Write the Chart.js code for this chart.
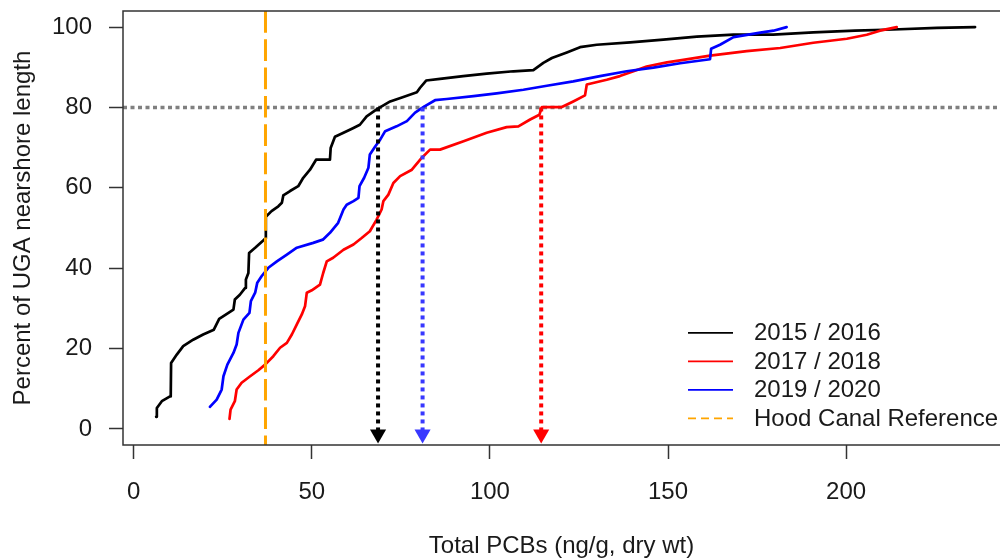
<!DOCTYPE html>
<html>
<head>
<meta charset="utf-8">
<title>Total PCBs - percent of UGA nearshore length</title>
<script src="https://cdn.jsdelivr.net/npm/chart.js@4.4.1/dist/chart.umd.min.js"></script>
<style>
  html, body { margin: 0; padding: 0; background: #fff; }
</style>
</head>
<body>
<canvas id="pcbChart" width="1000" height="559"></canvas>
<script>
// values
const xTicks = [0, 50, 100, 150, 200];
const yTicks = [0, 20, 40, 60, 80, 100];

const seriesLabels = ["2015 / 2016", "2017 / 2018", "2019 / 2020"];
const refLabel = "Hood Canal Reference";

const pcb1516 = [6.3, 6.5, 7.9, 10.2, 10.4, 10.5, 12.1, 13.9, 16.7, 19.5, 22.5, 24.0, 26.6, 28.0, 28.4, 29.8, 31.3, 31.5, 32.2, 32.4, 34.1, 36.6, 37.0, 37.1, 38.7, 40.6, 41.6, 42.0, 43.9, 46.2, 47.6, 49.5, 51.2, 55.1, 55.3, 56.5, 58.9, 61.7, 63.5, 65.4, 68.2, 72.0, 75.7, 79.5, 80.4, 82.1, 86.0, 92.5, 99.1, 106.6, 112.2, 115.0, 117.4, 121.6, 125.3, 130.0, 139.4, 148.7, 158.1, 168.4, 179.5, 190.8, 202.5, 213.2, 225.5, 236.2];
const pct1516 = [3.0, 5.2, 6.9, 8.1, 8.2, 16.4, 18.5, 20.6, 22.2, 23.5, 24.7, 27.4, 28.9, 29.7, 32.2, 33.4, 35.1, 37.2, 38.8, 43.8, 45.1, 47.1, 47.4, 52.8, 54.2, 55.4, 56.3, 58.1, 59.2, 60.4, 62.5, 64.5, 67.0, 67.0, 69.9, 72.7, 73.7, 74.9, 75.7, 77.8, 79.5, 81.5, 82.6, 83.8, 84.9, 86.7, 87.1, 87.8, 88.4, 89.0, 89.3, 91.1, 92.3, 93.7, 95.0, 95.6, 96.2, 96.9, 97.6, 98.1, 98.1, 98.7, 99.1, 99.4, 99.8, 100];

const pcb1718 = [26.9, 27.2, 28.4, 28.9, 30.3, 32.7, 35.0, 36.9, 39.2, 41.1, 43.0, 44.4, 45.8, 47.2, 48.1, 48.6, 50.0, 52.3, 53.2, 54.2, 56.0, 58.9, 61.7, 64.0, 66.3, 68.2, 69.6, 70.1, 71.5, 72.9, 74.8, 78.1, 80.9, 83.2, 86.0, 92.6, 99.1, 104.7, 108.0, 111.3, 113.9, 114.6, 120.2, 123.4, 126.7, 127.2, 132.8, 136.5, 140.3, 144.0, 149.7, 153.4, 161.8, 172.1, 181.5, 190.8, 200.2, 205.8, 209.5, 214.2];
const pct1718 = [2.5, 4.8, 6.9, 9.8, 11.5, 13.1, 14.6, 16.0, 18.1, 20.2, 21.4, 23.5, 26.0, 28.5, 30.5, 33.9, 34.5, 35.9, 38.8, 41.7, 42.6, 44.6, 45.9, 47.5, 49.2, 52.1, 54.6, 56.7, 58.3, 61.2, 62.9, 64.5, 67.5, 69.5, 69.5, 71.6, 73.7, 75.1, 75.3, 77.0, 78.2, 80.1, 80.1, 81.5, 83.0, 85.7, 86.9, 87.8, 89.0, 90.2, 91.2, 91.7, 92.9, 94.0, 94.8, 96.1, 97.1, 98.1, 99.1, 100];

const pcb1920 = [21.4, 23.3, 24.7, 25.2, 26.3, 28.0, 28.9, 29.4, 30.8, 32.5, 32.9, 34.1, 34.7, 35.9, 37.8, 40.2, 43.0, 45.8, 50.4, 53.1, 55.1, 57.4, 58.9, 59.8, 61.7, 63.1, 63.4, 64.7, 65.9, 66.3, 67.8, 69.2, 70.6, 73.8, 76.7, 79.0, 81.3, 84.6, 87.9, 95.4, 101.9, 109.4, 116.0, 123.4, 130.9, 138.4, 145.9, 153.4, 161.8, 162.1, 164.6, 168.4, 175.9, 179.6, 183.3];
const pct1920 = [5.5, 7.3, 9.8, 13.1, 16.0, 18.9, 21.0, 23.9, 27.2, 28.9, 31.8, 33.9, 36.4, 38.0, 40.1, 41.7, 43.4, 45.1, 46.3, 47.1, 48.8, 51.3, 54.6, 55.8, 56.7, 57.5, 60.4, 62.5, 65.0, 68.3, 70.3, 72.0, 74.1, 75.3, 76.6, 78.7, 80.1, 81.8, 82.1, 82.8, 83.5, 84.4, 85.4, 86.5, 87.8, 89.0, 89.9, 91.0, 92.0, 94.6, 95.6, 97.5, 98.6, 99.1, 100];

// 80th percentile concentration of each series (arrows), same order as seriesLabels
const p80Pcb = [68.6, 114.4, 81.1];
const cutoffPct = 80;
const hoodCanalRef = 37;

const X_MIN = -3.0;
const X_MAX = 243.2;
const Y_MIN = -4;
const Y_MAX = 104;
const ARROW_TIP = -1.3;

const FONT = "'Liberation Sans', Arial, sans-serif";
const TEXT = "#1a1a1a";
const AXIS = "#333333";
const colors = ["#000000", "#ff0000", "#0000ff"];
const arrowColors = ["#000000", "#ff0000", "#3838ff"];
const ORANGE = "#ffa500";

const toPoints = (xs, ys) => xs.map((x, i) => ({ x, y: ys[i] }));

const curve = (i, xs, ys) => ({
  label: seriesLabels[i],
  data: toPoints(xs, ys),
  borderColor: colors[i],
  backgroundColor: colors[i],
  borderWidth: 2.7,
  borderJoinStyle: "round",
  borderCapStyle: "round",
  pointRadius: 0,
  tension: 0,
  legendRow: i,
});

const arrow = (i) => ({
  label: "",
  data: [{ x: p80Pcb[i], y: cutoffPct }, { x: p80Pcb[i], y: ARROW_TIP }],
  borderColor: arrowColors[i],
  backgroundColor: arrowColors[i],
  borderWidth: 4,
  borderDash: [4, 4],
  pointRadius: [0, 9.3],
  pointStyle: "triangle",
  pointRotation: 180,
  pointBorderWidth: 0,
  pointBackgroundColor: arrowColors[i],
});

// first dataset is drawn on top
const datasets = [
  arrow(0),
  arrow(2),
  arrow(1),
  {
    label: refLabel,
    data: [{ x: hoodCanalRef, y: Y_MAX }, { x: hoodCanalRef, y: Y_MIN }],
    borderColor: ORANGE,
    backgroundColor: ORANGE,
    borderWidth: 3,
    borderDash: [21.7, 6.6],
    pointRadius: 0,
    legendRow: 3,
    legendDash: [8, 5],
  },
  curve(2, pcb1920, pct1920),
  curve(1, pcb1718, pct1718),
  curve(0, pcb1516, pct1516),
  {
    label: "",
    data: [{ x: X_MIN, y: cutoffPct }, { x: X_MAX + 5, y: cutoffPct }],
    borderColor: "#808080",
    borderWidth: 3.5,
    borderDash: [4, 3.5],
    pointRadius: 0,
  },
];

const framePlugin = {
  id: "frame",
  afterDatasetsDraw(chart) {
    const { ctx, chartArea: a } = chart;
    ctx.save();
    ctx.strokeStyle = AXIS;
    ctx.lineWidth = 1.5;
    ctx.strokeRect(a.left, a.top, a.right - a.left + 20, a.bottom - a.top);
    ctx.restore();
  },
};

// R style legend, bottom right inside the plot, no box
const legendPlugin = {
  id: "rLegend",
  afterDraw(chart) {
    const { ctx, chartArea: a } = chart;
    const items = chart.data.datasets
      .filter((d) => d.legendRow !== undefined)
      .sort((p, q) => p.legendRow - q.legendRow);
    const x0 = a.right - 312;
    const rowH = 28.5;
    const y0 = a.bottom - 26.7 - rowH * (items.length - 1);
    ctx.save();
    ctx.font = `24px ${FONT}`;
    ctx.textBaseline = "middle";
    ctx.textAlign = "left";
    items.forEach((d, i) => {
      const y = y0 + rowH * i;
      ctx.beginPath();
      ctx.strokeStyle = d.borderColor;
      ctx.lineWidth = 1.7;
      ctx.setLineDash(d.legendDash || []);
      ctx.moveTo(x0, y);
      ctx.lineTo(x0 + 45, y);
      ctx.stroke();
      ctx.setLineDash([]);
      ctx.fillStyle = TEXT;
      ctx.fillText(d.label, x0 + 66, y + 1);
    });
    ctx.restore();
  },
};

const tickFont = { family: FONT, size: 24 };

new Chart(document.getElementById("pcbChart"), {
  type: "line",
  data: { datasets },
  options: {
    responsive: false,
    animation: false,
    events: [],
    layout: { autoPadding: false, padding: { top: 11, right: 0, bottom: 0, left: 0 } },
    plugins: {
      legend: { display: false },
      tooltip: { enabled: false },
    },
    scales: {
      x: {
        type: "linear",
        min: X_MIN,
        max: X_MAX,
        afterBuildTicks: (s) => {
          s.ticks = xTicks.map((value) => ({ value }));
        },
        afterFit: (s) => {
          s.height = 114;
          s.paddingLeft = 0;
          s.paddingRight = 0;
        },
        grid: { drawOnChartArea: false, drawTicks: true, tickLength: 14, tickColor: AXIS, tickWidth: 1.5 },
        border: { display: false },
        ticks: { font: tickFont, color: TEXT, padding: 19, maxRotation: 0, autoSkip: false },
        title: {
          display: true,
          text: "Total PCBs (ng/g, dry wt)",
          color: TEXT,
          font: { family: FONT, size: 24, lineHeight: 1 },
          padding: { top: 0, bottom: 1 },
        },
      },
      y: {
        type: "linear",
        min: Y_MIN,
        max: Y_MAX,
        afterBuildTicks: (s) => {
          s.ticks = yTicks.map((value) => ({ value }));
        },
        afterFit: (s) => {
          s.width = 123;
          s.paddingTop = 0;
          s.paddingBottom = 0;
        },
        grid: { drawOnChartArea: false, drawTicks: true, tickLength: 14, tickColor: AXIS, tickWidth: 1.5 },
        border: { display: false },
        ticks: { font: tickFont, color: TEXT, padding: 17, autoSkip: false },
        title: {
          display: true,
          text: "Percent of UGA nearshore length",
          color: TEXT,
          font: { family: FONT, size: 24, lineHeight: 1 },
          padding: { top: 11, bottom: 0 },
        },
      },
    },
  },
  plugins: [framePlugin, legendPlugin],
});
</script>
</body>
</html>
